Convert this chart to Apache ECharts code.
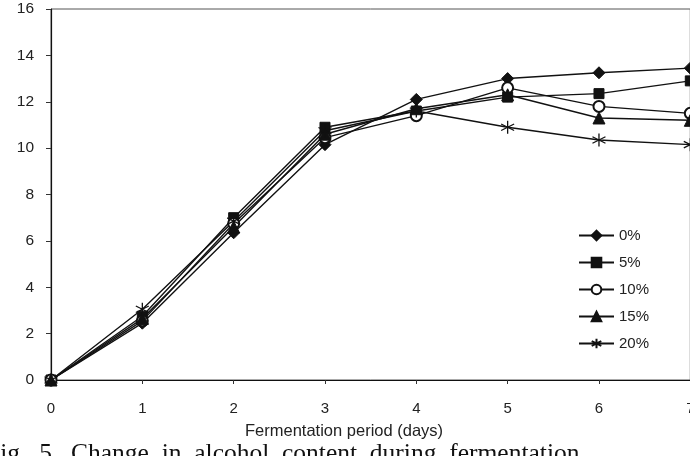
<!DOCTYPE html>
<html>
<head>
<meta charset="utf-8">
<script src="https://cdn.jsdelivr.net/npm/echarts@6/dist/echarts.min.js"></script>
<style>
  html, body { margin: 0; padding: 0; background: #fff; }
  #clip { width: 690px; height: 456px; overflow: hidden; position: relative; }
  #main { width: 760px; height: 456px; }
</style>
</head>
<body>
<div id="clip"><div id="main"></div></div>
<script>
// fermentation days
var days = ['0', '1', '2', '3', '4', '5', '6', '7'];
// alcohol content (%) per concentration
var seriesNames = ['0%', '5%', '10%', '15%', '20%'];
var alc0  = [0, 2.45, 6.35, 10.15, 12.1, 13.0, 13.25, 13.45];
var alc5  = [0, 2.75, 7.0, 10.9, 11.6, 12.2, 12.35, 12.9];
var alc10 = [0, 2.55, 6.75, 10.45, 11.4, 12.6, 11.8, 11.5];
var alc15 = [0, 2.65, 6.6, 10.6, 11.7, 12.3, 11.3, 11.2];
var alc20 = [0, 3.05, 6.85, 10.75, 11.6, 10.9, 10.35, 10.15];
var yTicks = [0, 2, 4, 6, 8, 10, 12, 14, 16];

var star = 'path://M5,0L5,10M0.7,2.5L9.3,7.5M0.7,7.5L9.3,2.5';
var ink = '#111';

function mkSeries(name, data, symbol, size, fill) {
    return {
        name: name,
        type: 'line',
        data: data.map(function (v, i) { return [i, v]; }),
        symbol: symbol,
        symbolSize: size,
        showAllSymbol: true,
        clip: false,
        lineStyle: { color: ink, width: 1.4 },
        itemStyle: { color: fill, borderColor: ink, borderWidth: symbol == star ? 1.3 : 1 },
        emphasis: { disabled: true },
        z: 2
    };
}

var chart = echarts.init(document.getElementById('main'));
var option = {
    animation: false,
    textStyle: { fontFamily: 'Liberation Sans' },
    grid: { left: 51, top: 9, width: 639.3, bottom: 76, show: true, borderColor: '#555', borderWidth: 1 },
    legend: {
        orient: 'vertical',
        left: 578,
        top: 228,
        padding: 0,
        itemWidth: 35,
        itemHeight: 12,
        itemGap: 12,
        textStyle: { fontSize: 15, lineHeight: 14, color: '#222', fontFamily: 'Liberation Sans' },
        data: seriesNames
    },
    xAxis: {
        type: 'value',
        min: 0,
        max: 7,
        interval: 1,
        axisLine: { lineStyle: { color: ink, width: 1.2 } },
        axisTick: { show: true, length: 4, lineStyle: { color: '#333' } },
        axisLabel: {
            color: '#222', fontSize: 15, margin: 21,
            formatter: function (v) { return days[v]; }
        },
        splitLine: { show: false }
    },
    yAxis: {
        type: 'value',
        min: yTicks[0],
        max: yTicks[yTicks.length - 1],
        interval: 2,
        axisLine: { show: true, lineStyle: { color: ink, width: 1.2 } },
        axisTick: { show: true, length: 5, lineStyle: { color: '#333' } },
        axisLabel: { color: '#222', fontSize: 15.5, margin: 17 },
        splitLine: { show: false }
    },
    graphic: [
        {
            type: 'text', left: 245, top: 423,
            style: { text: 'Fermentation period (days)', fontSize: 16.5, fill: '#222', fontFamily: 'Liberation Sans' }
        },
        {
            type: 'text', left: -14, top: 441,
            style: { text: 'Fig.  5.  Change  in  alcohol  content  during  fermentation', fontSize: 25.5, fill: '#111', fontFamily: 'Liberation Serif' }
        }
    ],
    series: [
        mkSeries(seriesNames[0], alc0, 'diamond', 12, ink),
        mkSeries(seriesNames[1], alc5, 'rect', 10, ink),
        mkSeries(seriesNames[2], alc10, 'emptyCircle', 11, ink),
        mkSeries(seriesNames[3], alc15, 'triangle', 12, ink),
        mkSeries(seriesNames[4], alc20, star, 13, 'none')
    ]
};
chart.setOption(option);
</script>
</body>
</html>
